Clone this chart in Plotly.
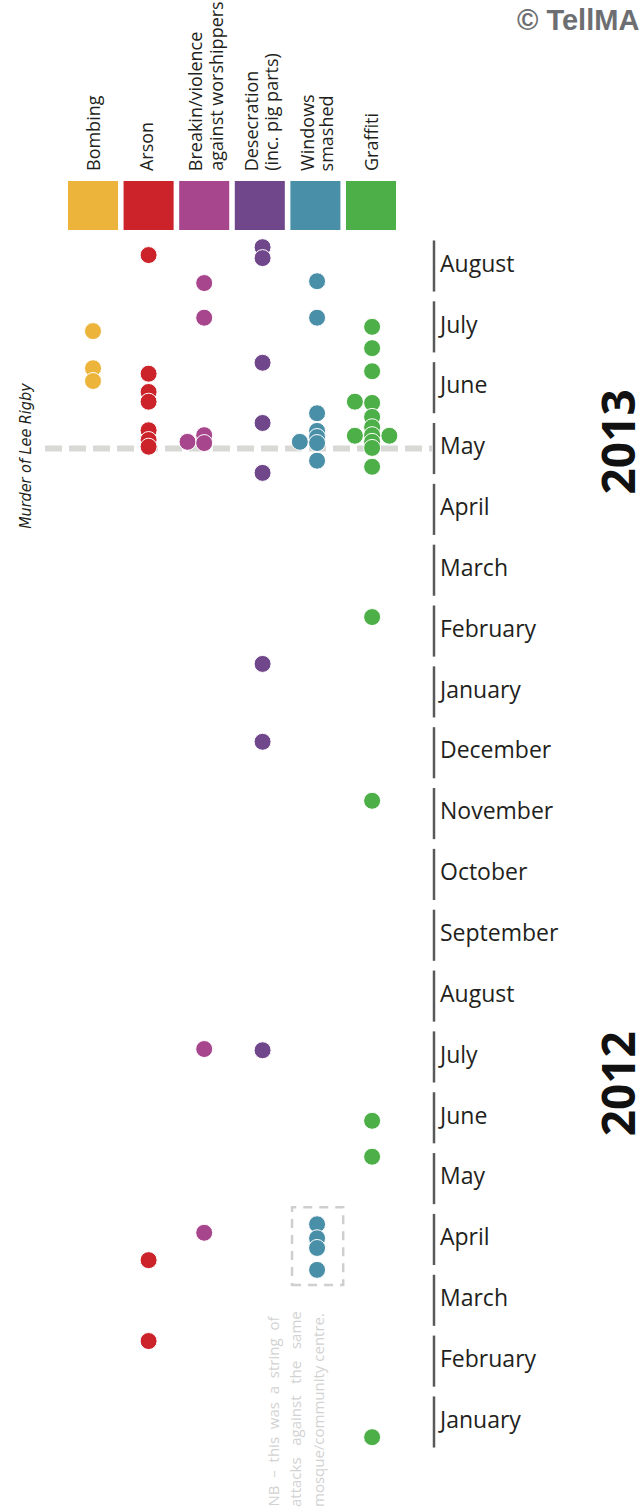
import plotly.graph_objects as go

W, H = 641, 1512

# ---------------- data ----------------
categories = ["Bombing", "Arson", "Breakin/violence against worshippers",
              "Desecration (inc. pig parts)", "Windows smashed", "Graffiti"]
header_lines = [["Bombing"], ["Arson"], ["Breakin/violence", "against worshippers"],
                ["Desecration", "(inc. pig parts)"], ["Windows", "smashed"], ["Graffiti"]]
colors = ["#ECB43B", "#CC2229", "#A7468C", "#6F478A", "#4A8FA8", "#4DAF47"]

# month labels, Jan 2012 .. Aug 2013 (index 0 .. 19, month i occupies [i, i+1))
months = ["January", "February", "March", "April", "May", "June", "July", "August",
          "September", "October", "November", "December",
          "January", "February", "March", "April", "May", "June", "July", "August"]
years = ["2013", "2012"]
year_pos = [16.6, 6.05]

# incidents: time in months since 1 Jan 2012, and lateral swarm offset (category widths)
bombing_t = [18.43, 17.82, 17.61]
bombing_dx = [0, 0, 0]

arson_t = [19.68, 17.73, 17.43, 17.27, 16.80, 16.64, 16.53, 3.16, 1.83]
arson_dx = [0, 0, 0, 0, 0, 0, 0, 0, 0]

breakin_t = [19.22, 18.65, 16.61, 16.72, 16.59, 6.63, 3.61]
breakin_dx = [0, 0, -0.3, 0, 0, 0, 0]

desecration_t = [19.81, 19.63, 17.91, 16.92, 16.10, 12.96, 11.68, 6.61]
desecration_dx = [0.05, 0.05, 0.05, 0.05, 0.05, 0.05, 0.05, 0.05]

windows_t = [19.25, 18.65, 17.08, 16.79, 16.69, 16.59, 16.61, 16.30, 3.75, 3.52, 3.36, 3.00]
windows_dx = [0.03, 0.03, 0.03, 0.03, 0.03, 0.03, -0.28, 0.03, 0.03, 0.03, 0.03, 0.03]

graffiti_t = [18.50, 18.15, 17.77, 17.27, 16.71, 16.71, 17.25, 17.02, 16.85, 16.72, 16.61,
              16.51, 16.20, 13.73, 10.71, 5.45, 4.86, 0.25]
graffiti_dx = [0.02, 0.02, 0.02, -0.29, -0.29, 0.33, 0.02, 0.02, 0.02, 0.02, 0.02,
               0.02, 0.02, 0.02, 0.02, 0.02, 0.02, 0.02]

series_t = [bombing_t, arson_t, breakin_t, desecration_t, windows_t, graffiti_t]
series_dx = [bombing_dx, arson_dx, breakin_dx, desecration_dx, windows_dx, graffiti_dx]

event_label = "Murder of Lee Rigby"
event_t = 16.5

note_lines = ["NB&nbsp;&nbsp;–&nbsp;&nbsp;this&nbsp;&nbsp;was&nbsp;&nbsp;a&nbsp;&nbsp;string&nbsp;&nbsp;of",
              "attacks&nbsp;&nbsp;&nbsp;against&nbsp;&nbsp;&nbsp;the&nbsp;&nbsp;&nbsp;same",
              "mosque/community centre."]
note_box_t = [2.75, 4.03]

credit = "© TellMA"

# ---------------- layout helpers ----------------
X0, XSTEP = 93.0, 55.6     # pixel centre of first category, pitch
Y0, YSTEP = 1452.4, 60.84  # pixel of t=0, pixels per month


def px_x(p):
    return (p - X0) / XSTEP


def py(p):
    return 1 - p / H


FONT = "Open Sans, Noto Sans, sans-serif"
TXT = "#231f20"

fig = go.Figure()

# event dashed line
shapes = [dict(type="line", xref="x", yref="y", x0=px_x(45), x1=px_x(432), y0=event_t, y1=event_t,
               line=dict(color="#d8d8d5", width=6, dash="17px,7px"), layer="below")]

# note box
shapes.append(dict(type="rect", xref="x", yref="y", x0=4 - 0.42, x1=4 + 0.5,
                   y0=note_box_t[0], y1=note_box_t[1],
                   line=dict(color="#cfcfcf", width=2.5, dash="9px,7px"), layer="below"))

# header colour squares
for i, c in enumerate(colors):
    shapes.append(dict(type="rect", xref="x", yref="paper", x0=i - 0.45, x1=i + 0.45,
                       y0=py(230), y1=py(181), fillcolor=c, line=dict(width=0)))

# month segments
for i in range(len(months)):
    shapes.append(dict(type="line", xref="x", yref="y", x0=px_x(434), x1=px_x(434),
                       y0=i + 0.5 - 0.42, y1=i + 0.5 + 0.42,
                       line=dict(color="#58595b", width=2.5)))

# dots
for i, name in enumerate(categories):
    fig.add_trace(go.Scatter(
        x=[i + d for d in series_dx[i]], y=series_t[i], mode="markers", name=name,
        marker=dict(size=17, color=colors[i], line=dict(color="white", width=1)),
        hoverinfo="name"))

# month labels
fig.add_trace(go.Scatter(
    x=[px_x(440)] * len(months), y=[i + 0.5 for i in range(len(months))],
    text=months, mode="text", textposition="middle right",
    textfont=dict(family=FONT, size=23, color=TXT), hoverinfo="skip"))

annotations = []
# header labels
for i, lines in enumerate(header_lines):
    offs = [0] if len(lines) == 1 else [-9, 11]
    for ln, off in zip(lines, offs):
        annotations.append(dict(text=ln, xref="x", yref="paper", x=i, y=py(173),
                                xshift=off - (3 if i == 1 else 0), xanchor="center",
                                yanchor="bottom", textangle=-90, showarrow=False,
                                font=dict(family=FONT, size=18, color=TXT)))

# years
for yr, yp in zip(years, year_pos):
    annotations.append(dict(text="<b>%s</b>" % yr, xref="paper", yref="y", x=617 / W, y=yp,
                            xanchor="center", yanchor="middle", textangle=-90, showarrow=False,
                            font=dict(family=FONT, size=46, color="#111111")))

# event label
annotations.append(dict(text="<i>%s</i>" % event_label, xref="paper", yref="y", x=26 / W,
                        y=event_t - 0.12, xanchor="center", yanchor="middle", textangle=-90,
                        showarrow=False,
                        font=dict(family="Liberation Sans Narrow, DejaVu Sans Condensed, Open Sans",
                                  size=16, color=TXT)))

# note
for k, (ln, xp) in enumerate(zip(note_lines, [272, 295, 318])):
    annotations.append(dict(text=ln, xref="paper", yref="paper", x=xp / W, y=py(1509),
                            xanchor="center", yanchor="bottom", textangle=-90, showarrow=False,
                            font=dict(family=FONT, size=15, color="#d2d2d2")))

# credit
annotations.append(dict(text="<b>%s</b>" % credit, xref="paper", yref="paper", x=1, y=py(20),
                        xanchor="right", yanchor="middle", showarrow=False,
                        font=dict(family="Liberation Sans, Arial, sans-serif", size=29,
                                  color="#6d6e71")))

fig.update_layout(
    width=W, height=H, margin=dict(l=0, r=0, t=0, b=0),
    paper_bgcolor="white", plot_bgcolor="white", showlegend=False,
    xaxis=dict(range=[px_x(0), px_x(W)], visible=False, fixedrange=True),
    yaxis=dict(range=[(Y0 - H) / YSTEP, Y0 / YSTEP], visible=False, fixedrange=True),
    shapes=shapes, annotations=annotations,
)

fig.write_html("out.html", config={"displayModeBar": False},
               post_script="document.body.style.margin='0';document.body.style.overflow='hidden';")
